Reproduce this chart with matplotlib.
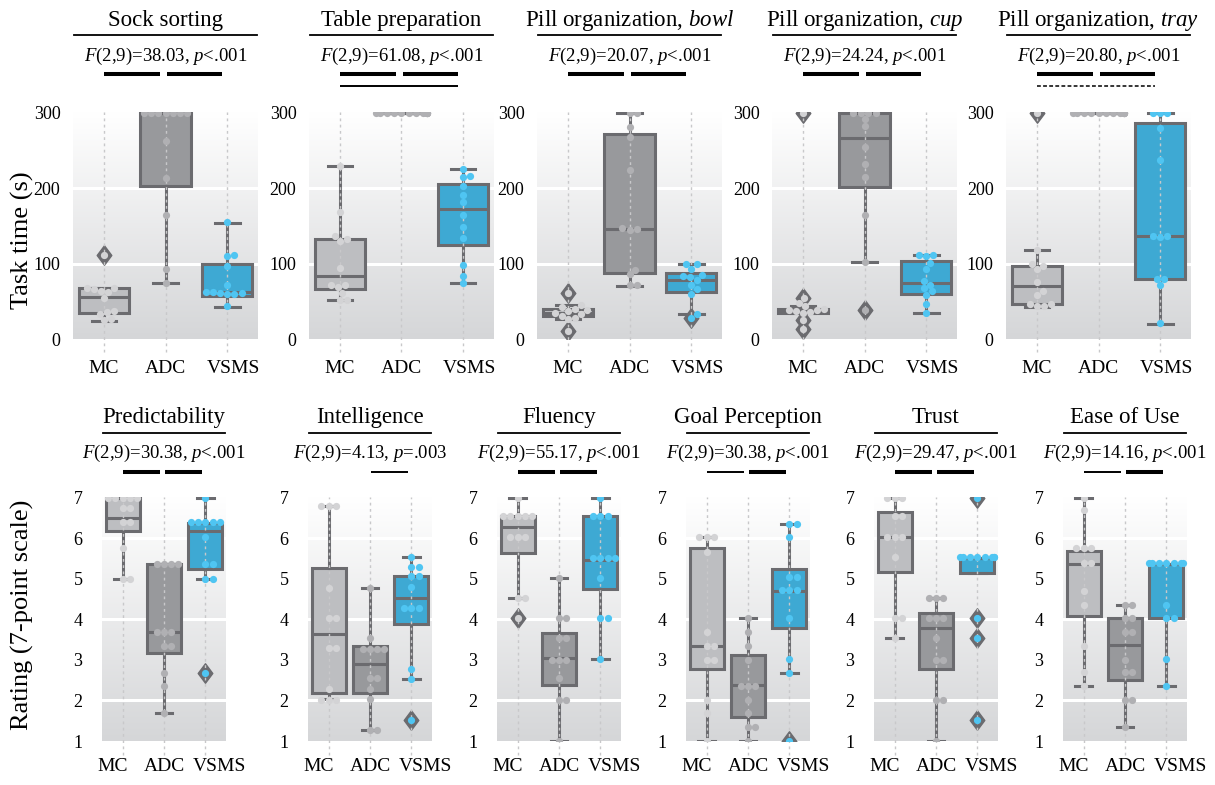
import numpy as np
import matplotlib.pyplot as plt
from matplotlib.path import Path
from matplotlib.lines import Line2D
from matplotlib import transforms
from matplotlib.colors import LinearSegmentedColormap

plt.rcParams['font.family'] = ['Liberation Serif', 'DejaVu Serif']
plt.rcParams['mathtext.fontset'] = 'custom'
plt.rcParams['mathtext.rm'] = 'Liberation Serif'
plt.rcParams['mathtext.it'] = 'Liberation Serif:italic'

groups = ['MC', 'ADC', 'VSMS']

# ---- task time (s), top row ----
sock_points = [[111, 67, 67, 66, 63, 62, 54, 37, 36, 33, 26, 25],
               [300, 300, 300, 300, 300, 300, 300, 262, 214, 165, 93, 74],
               [155, 112, 110, 97, 72, 62, 62, 61, 61, 60, 60, 44]]
sock_boxes = [(24, 35, 56, 67, 67), (74, 203, 300, 300, 300), (43, 57, 62, 100, 154)]
sock_fliers = [[111], [], []]

table_points = [[230, 168, 137, 133, 130, 94, 72, 72, 69, 61, 52, 52],
                [300, 300, 300, 300, 300, 300, 300, 300, 300, 300, 300, 300],
                [225, 216, 215, 203, 191, 181, 164, 148, 134, 98, 84, 74]]
table_boxes = [(52, 66, 83, 133, 230), (300, 300, 300, 300, 300), (74, 124, 173, 205, 225)]
table_fliers = [[], [], []]

bowl_points = [[61, 45, 42, 40, 38, 37, 35, 33, 31, 28, 26, 10],
               [300, 300, 281, 268, 224, 147, 146, 145, 92, 86, 71, 71],
               [100, 99, 93, 85, 83, 82, 78, 72, 66, 60, 33, 28]]
bowl_boxes = [(26, 30, 34, 40, 45), (70, 87, 146, 272, 300), (33, 62, 78, 87, 100)]
bowl_fliers = [[61, 10], [], [28]]

cup_points = [[300, 55, 48, 44, 40, 38, 38, 37, 36, 35, 25, 13],
              [300, 300, 300, 300, 292, 282, 254, 232, 215, 165, 102, 38],
              [111, 111, 110, 101, 93, 77, 72, 67, 63, 58, 47, 35]]
cup_boxes = [(35, 35, 37, 40, 44), (102, 201, 267, 300, 300), (35, 60, 74, 104, 111)]
cup_fliers = [[300, 55, 25, 13], [38], []]

tray_points = [[300, 118, 100, 97, 93, 76, 63, 59, 47, 47, 44, 44],
               [300, 300, 300, 300, 300, 300, 300, 300, 300, 300, 300, 300],
               [300, 300, 300, 280, 237, 137, 136, 135, 80, 79, 71, 21]]
tray_boxes = [(43, 46, 70, 97, 118), (300, 300, 300, 300, 300), (20, 79, 136, 286, 300)]
tray_fliers = [[300], [], []]

# ---- ratings, bottom row ----
pred_points = [[7, 7, 7, 7, 7, 6.75, 6.75, 6.4, 6.4, 5.75, 5, 5],
               [5.37, 5.37, 5.37, 5.37, 3.7, 3.7, 3.7, 3.35, 3.35, 2.69, 2.36, 1.7],
               [7, 6.4, 6.4, 6.4, 6.4, 6.4, 6.04, 5.37, 5.37, 5.0, 5.0, 2.69]]
pred_boxes = [(5.0, 6.17, 6.5, 7.0, 7.0), (1.7, 3.17, 3.7, 5.37, 5.37), (5.0, 5.25, 6.19, 6.37, 7.0)]
pred_fliers = [[], [], [2.69]]

intel_points = [[6.8, 6.8, 6.8, 4.77, 4.03, 4.03, 3.29, 3.29, 2.28, 2.0, 2.0, 2.0],
                [4.77, 3.54, 3.26, 3.26, 3.26, 3.26, 2.55, 2.55, 2.28, 2.03, 1.27, 1.27],
                [5.53, 5.3, 5.3, 5.06, 5.06, 4.8, 4.28, 4.28, 4.28, 2.77, 2.52, 1.52]]
intel_boxes = [(2.03, 2.19, 3.63, 5.28, 6.79), (1.27, 2.19, 2.89, 3.35, 4.77), (2.52, 3.88, 4.54, 5.06, 5.53)]
intel_fliers = [[], [], [1.52]]

flu_points = [[7, 6.55, 6.55, 6.55, 6.55, 6.55, 6.04, 6.04, 6.04, 4.52, 4.52, 4.03],
              [5.02, 4.03, 4.03, 3.54, 3.54, 3.0, 3.0, 3.0, 2.55, 2.0, 2.0, 1.0],
              [7, 6.55, 6.55, 6.55, 5.51, 5.51, 5.51, 5.51, 5.02, 4.03, 4.03, 3.02]]
flu_boxes = [(4.52, 5.63, 6.29, 6.54, 7.0), (1.0, 2.38, 3.04, 3.66, 5.02), (3.02, 4.75, 5.47, 6.54, 7.0)]
flu_fliers = [[4.03], [], []]

goal_points = [[6.04, 6.04, 6.04, 5.67, 3.7, 3.35, 3.35, 3.0, 3.0, 2.0, 1.7, 1.0],
               [4.03, 3.7, 3.35, 3.0, 2.35, 2.35, 2.35, 2.0, 1.7, 1.35, 1.35, 1.0],
               [6.35, 6.35, 6.04, 5.05, 5.05, 4.72, 4.72, 4.72, 4.03, 3.02, 2.69, 1.0]]
goal_boxes = [(1.0, 2.77, 3.35, 5.76, 6.04), (1.0, 1.6, 2.38, 3.11, 4.03), (2.69, 3.78, 4.69, 5.24, 6.35)]
goal_fliers = [[], [], [1.0]]

trust_points = [[7, 7, 7, 6.55, 6.55, 6.04, 6.04, 6.04, 5.53, 4.03, 4.03, 3.54],
                [4.52, 4.52, 4.52, 4.03, 4.03, 4.03, 3.54, 3.0, 3.0, 2.0, 2.0, 1.0],
                [7, 5.55, 5.55, 5.55, 5.55, 5.55, 5.55, 5.55, 5.55, 4.03, 3.54, 1.52]]
trust_boxes = [(3.54, 5.16, 6.04, 6.64, 7.0), (1.0, 2.77, 3.78, 4.17, 4.52), (5.14, 5.14, 5.51, 5.51, 5.51)]
trust_fliers = [[], [], [7, 4.03, 3.54, 1.52]]

ease_points = [[7, 6.7, 5.75, 5.75, 5.75, 5.4, 5.4, 4.7, 4.36, 3.35, 2.7, 2.36],
               [4.36, 4.36, 4.03, 4.03, 3.7, 3.7, 3.0, 2.7, 2.7, 2.0, 2.0, 1.35],
               [5.4, 5.4, 5.4, 5.4, 5.4, 5.4, 5.4, 4.36, 4.03, 4.03, 3.02, 2.36]]
ease_boxes = [(2.36, 4.09, 5.37, 5.7, 7.0), (1.35, 2.51, 3.37, 4.03, 4.36), (2.36, 4.03, 5.37, 5.37, 5.37)]
ease_fliers = [[], [], []]

top_titles = ['Sock sorting', 'Table preparation', 'Pill organization, $bowl$',
              'Pill organization, $cup$', 'Pill organization, $tray$']
top_ftext = ['$F$(2,9)=38.03, $p$<.001', '$F$(2,9)=61.08, $p$<.001', '$F$(2,9)=20.07, $p$<.001',
             '$F$(2,9)=24.24, $p$<.001', '$F$(2,9)=20.80, $p$<.001']
top_sig = [[(0, 1, 'thick'), (1, 2, 'thick')],
           [(0, 1, 'thick'), (1, 2, 'thick'), (0, 2, 'thin')],
           [(0, 1, 'thick'), (1, 2, 'thick')],
           [(0, 1, 'thick'), (1, 2, 'thick')],
           [(0, 1, 'thick'), (1, 2, 'thick'), (0, 2, 'dashed')]]

bot_titles = ['Predictability', 'Intelligence', 'Fluency', 'Goal Perception', 'Trust', 'Ease of Use']
bot_ftext = ['$F$(2,9)=30.38, $p$<.001', '$F$(2,9)=4.13, $p$=.003', '$F$(2,9)=55.17, $p$<.001',
             '$F$(2,9)=30.38, $p$<.001', '$F$(2,9)=29.47, $p$<.001', '$F$(2,9)=14.16, $p$<.001']
bot_sig = [[(0, 1, 'thick'), (1, 2, 'thick')],
           [(1, 2, 'thin')],
           [(0, 1, 'thick'), (1, 2, 'thick')],
           [(0, 1, 'thin'), (1, 2, 'thick')],
           [(0, 1, 'thick'), (1, 2, 'thick')],
           [(0, 1, 'thin'), (1, 2, 'thick')]]

W, H = 1215, 785
fig = plt.figure(figsize=(W / 100, H / 100), dpi=100)

box_face = ['#bdbec1', '#98999c', '#3ea9d3']
point_col = ['#d3d3d5', '#b0b0b3', '#4fc5f2']
edge = '#6b6b6f'
bg = LinearSegmentedColormap.from_list('bg', ['#d5d6d8', '#ffffff'])
diamond = Path([(0, 1), (0.75, 0), (0, -1), (-0.75, 0), (0, 1)], [1, 2, 2, 2, 79])
sig_style = {'thick': dict(lw=2.9, ls='-'), 'thin': dict(lw=1.4, ls='-'),
             'dashed': dict(lw=1.1, ls=(0, (2.5, 1.5)))}
MS = 5.2


def swarm(ax, xc, vals, half_w):
    d = MS * fig.dpi / 72
    pts = ax.transData.transform(np.column_stack([np.full(len(vals), xc), vals]))
    ys = pts[:, 1]
    ppu = ax.transData.transform([[1, 0]])[0, 0] - ax.transData.transform([[0, 0]])[0, 0]
    lim = half_w * ppu
    placed = []
    xs = np.zeros(len(vals))
    for i in np.argsort(ys, kind='stable'):
        y = ys[i]
        cands = [0.0]
        for px, py in placed:
            dy = y - py
            if abs(dy) < d:
                dx = np.sqrt(d * d - dy * dy)
                cands += [px + dx, px - dx]
        cands.sort(key=abs)
        best = cands[-1]
        for c in cands:
            if all((c - px) ** 2 + (y - py) ** 2 >= d * d - 1e-6 for px, py in placed):
                best = c
                break
        best = float(np.clip(best, -lim, lim))
        placed.append((best, y))
        xs[i] = xc + best / ppu
    return xs


def panel(left, width, top, bottom, ylim, ext_low, yticks, gridv, title, ftext,
          pts, boxes, fliers, sig, ty, ypad, xpad, xoff):
    ax = fig.add_axes([left / W, 1 - bottom / H, width / W, (bottom - top) / H])
    grad = np.linspace(0, 1, 256).reshape(-1, 1)
    ax.imshow(grad, extent=(-0.5, 2.5, ylim[0], ylim[1]), origin='lower',
              aspect='auto', cmap=bg, zorder=0)
    ax.set_xlim(-0.5, 2.5)
    ax.set_ylim(*ylim)
    for v in gridv:
        ax.axhline(v, color='white', lw=2.2, zorder=1)

    stats = [dict(whislo=b[0], q1=b[1], med=b[2], q3=b[3], whishi=b[4], fliers=f)
             for b, f in zip(boxes, fliers)]
    art = ax.bxp(stats, positions=[0, 1, 2], widths=0.82, capwidths=0.4,
                 patch_artist=True, showfliers=True, manage_ticks=False, zorder=2,
                 boxprops=dict(edgecolor=edge, linewidth=2.2),
                 whiskerprops=dict(color=edge, linewidth=2.2),
                 capprops=dict(color=edge, linewidth=2.2),
                 medianprops=dict(color=edge, linewidth=2.2),
                 flierprops=dict(marker=diamond, markersize=14, markerfacecolor=edge,
                                 markeredgecolor=edge))
    for patch, c in zip(art['boxes'], box_face):
        patch.set_facecolor(c)

    for i in range(3):
        ax.plot([i, i], [ext_low, ylim[1]], color='#c8c8ca', lw=1.0,
                ls=(0, (2, 2.5)), clip_on=False, zorder=3)

    for i, vals in enumerate(pts):
        xs = swarm(ax, i, vals, 0.41)
        ax.plot(xs, vals, 'o', ms=MS, color=point_col[i], mec='none', zorder=4)

    ax.set_yticks(yticks)
    ax.set_xticks([0, 1, 2])
    ax.set_xticklabels(groups, fontsize=14)
    ax.tick_params(axis='y', length=0, pad=ypad, labelsize=13)
    ax.tick_params(axis='x', length=0, pad=xpad)
    for lab, off in zip(ax.get_xticklabels(), xoff):
        lab.set_transform(lab.get_transform() +
                          transforms.ScaledTranslation(off / 100, 0, fig.dpi_scale_trans))
    for s in ax.spines.values():
        s.set_visible(False)

    cx = (left + width / 2) / W
    fig.text(cx, 1 - ty[0] / H, title, ha='center', va='baseline', fontsize=16.5)
    fig.add_artist(Line2D([(left + 1) / W, (left + width - 1) / W], [1 - ty[1] / H] * 2,
                          color='black', lw=1.3))
    fig.text(cx, 1 - ty[2] / H, ftext, ha='center', va='baseline', fontsize=13.5)
    tr = transforms.blended_transform_factory(ax.transData, fig.transFigure)
    for a, b, style in sig:
        if b - a == 2:
            y = ty[4]
            x0, x1 = a, b - 0.09
        else:
            y = ty[3]
            x0, x1 = a + (0.03 if a else 0.0), b - 0.09
        ax.plot([x0, x1], [1 - y / H] * 2, transform=tr, clip_on=False, color='black',
                solid_capstyle='butt', dash_capstyle='butt', **sig_style[style])
    return ax


top_left = [73, 309, 537, 772, 1006]
top_data = [(sock_points, sock_boxes, sock_fliers), (table_points, table_boxes, table_fliers),
            (bowl_points, bowl_boxes, bowl_fliers), (cup_points, cup_boxes, cup_fliers),
            (tray_points, tray_boxes, tray_fliers)]
for k in range(5):
    p, b, f = top_data[k]
    panel(top_left[k], 185, 112, 339, (0, 301), -17, [0, 100, 200, 300], [100, 200],
          top_titles[k], top_ftext[k], p, b, f, top_sig[k], (26, 35, 61, 74, 86),
          9, 15, [0, 0, 6])

bot_left = [102, 308, 497, 686, 874, 1063]
bot_data = [(pred_points, pred_boxes, pred_fliers), (intel_points, intel_boxes, intel_fliers),
            (flu_points, flu_boxes, flu_fliers), (goal_points, goal_boxes, goal_fliers),
            (trust_points, trust_boxes, trust_fliers), (ease_points, ease_boxes, ease_fliers)]
for k in range(6):
    p, b, f = bot_data[k]
    panel(bot_left[k], 124, 497, 741, (1, 7.02), 0.65, [1, 2, 3, 4, 5, 6, 7], [2, 4, 6],
          bot_titles[k], bot_ftext[k], p, b, f, bot_sig[k], (423, 433, 458, 472, 484),
          14, 12, [-10, 0, 14])

fig.text(22 / W, 1 - 240 / H, 'Task time (s)', rotation=90, ha='center', va='center',
         fontsize=19)
fig.text(22 / W, 1 - 615 / H, 'Rating (7-point scale)', rotation=90, ha='center',
         va='center', fontsize=19)

fig.savefig('out.png', dpi=100)
